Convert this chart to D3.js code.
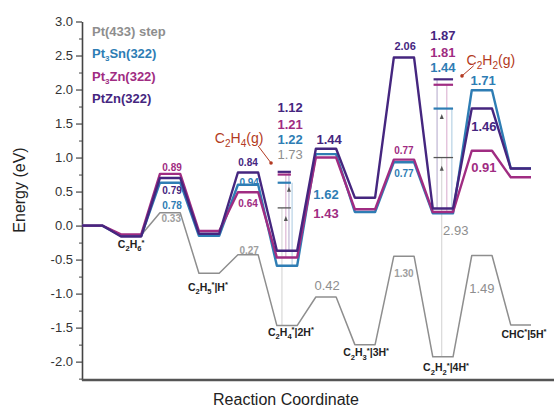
<!DOCTYPE html>
<html>
<head>
<meta charset="utf-8">
<script src="https://cdn.jsdelivr.net/npm/d3@7/dist/d3.min.js"></script>
<style>
  body { margin: 0; background: #fff; }
  svg { font-family: "Liberation Sans", Arial, sans-serif; }
</style>
</head>
<body>
<div id="chart"></div>
<script>
// reaction steps along the x axis (index = reaction coordinate)
var steps = ["C2H6(g)", "C2H6*", "TS1", "C2H5*|H*", "TS2", "C2H4*|2H*", "TS3",
             "C2H3*|3H*", "TS4", "C2H2*|4H*", "TS5", "CHC*|5H*"]

// energy levels (eV)
var pt433 = [0, -0.14, 0.19, -0.70, -0.43, -1.47, -1.05, -1.75, -0.45, -1.93, -0.44, -1.46]
var pt3sn = [0, -0.15, 0.63, -0.15, 0.60, -0.59, 1.05, 0.20, 0.93, 0.18, 1.99, 0.84]
var pt3zn = [0, -0.13, 0.76, -0.08, 0.49, -0.47, 1.00, 0.24, 0.97, 0.20, 1.10, 0.71]
var ptzn  = [0, -0.16, 0.70, -0.12, 0.78, -0.37, 1.13, 0.41, 2.47, 0.25, 1.72, 0.84]

// desorption levels: C2H4(g) above step 5, C2H2(g) above step 9
var c2h4g = { pt433: 0.26, pt3sn: 0.63, pt3zn: 0.75, ptzn: 0.79 }
var c2h2g = { pt433: 1.00, pt3sn: 1.72, pt3zn: 2.07, ptzn: 2.15 }

var seriesNames = ["Pt(433) step", "Pt3Sn(322)", "Pt3Zn(322)", "PtZn(322)"]
var seriesKeys = ["pt433", "pt3sn", "pt3zn", "ptzn"]
var colors = { pt433: "#8e8e8e", pt3sn: "#2e7db4", pt3zn: "#a02c82", ptzn: "#45267f" }
var gasRed = "#b33a22"

// barrier / desorption numbers [text, series, x, y]
var barrierLabels = [
  ["0.89", "pt3zn", 2.05, 0.86], ["0.79", "ptzn", 2.05, 0.51],
  ["0.78", "pt3sn", 2.05, 0.29], ["0.33", "pt433", 2.03, 0.10],
  ["0.84", "ptzn", 4.0, 0.92], ["0.94", "pt3sn", 4.03, 0.63],
  ["0.64", "pt3zn", 4.0, 0.33], ["0.27", "pt433", 4.03, -0.36],
  ["0.77", "pt3zn", 8.0, 1.11], ["0.77", "pt3sn", 8.0, 0.77],
  ["1.30", "pt433", 8.0, -0.70]
]
var bigLabels = [
  ["1.12", "ptzn", 5.08, 1.73], ["1.21", "pt3zn", 5.08, 1.48],
  ["1.22", "pt3sn", 5.08, 1.26], ["1.73", "pt433", 5.08, 1.04],
  ["1.44", "ptzn", 6.08, 1.26], ["1.62", "pt3sn", 6.0, 0.45],
  ["1.43", "pt3zn", 6.0, 0.18], ["0.42", "pt433", 6.03, -0.88],
  ["2.06", "ptzn", 8.03, 2.65],
  ["1.87", "ptzn", 9.0, 2.79], ["1.81", "pt3zn", 9.0, 2.54],
  ["1.44", "pt3sn", 9.0, 2.32], ["2.93", "pt433", 9.33, -0.07],
  ["1.71", "pt3sn", 10.03, 2.14], ["1.46", "ptzn", 10.05, 1.45],
  ["0.91", "pt3zn", 10.05, 0.86], ["1.49", "pt433", 10.0, -0.92]
]
var speciesLabels = [
  ["C2H6*", 1.0, -0.29], ["C2H5*|H*", 2.97, -0.92], ["C2H4*|2H*", 5.1, -1.58],
  ["C2H3*|3H*", 7.03, -1.88], ["C2H2*|4H*", 9.08, -2.10], ["CHC*|5H*", 11.08, -1.61]
]
var gasLabels = [["C2H4(g)", 3.77, 1.29], ["C2H2(g)", 10.23, 2.43]]
var gasArrows = [[4.26, 1.17, 4.59, 0.92], [9.79, 2.35, 9.49, 2.20]]

var yMajor = [-2.0, -1.5, -1.0, -0.5, 0.0, 0.5, 1.0, 1.5, 2.0, 2.5, 3.0]
var yMinor = d3.range(-2.25, 3.0, 0.5)

var W = 554, H = 410
var halfW = 0.26

var xScale = d3.scaleLinear().domain([-0.26, 11.85]).range([82, 554])
var yScale = d3.scaleLinear().domain([-2.27, 3.0]).range([380, 21.5])

var svg = d3.select("#chart").append("svg")
  .attr("width", W).attr("height", H)

// axes
svg.append("g")
  .attr("transform", "translate(82,0)")
  .call(d3.axisLeft(yScale).tickValues(yMinor).tickSize(3).tickSizeOuter(0).tickFormat(""))
  .call(g => g.select(".domain").remove())
  .call(g => g.selectAll("line").attr("stroke", "#444"))

svg.append("g")
  .attr("transform", "translate(82,0)")
  .call(d3.axisLeft(yScale).tickValues(yMajor).tickSize(6).tickSizeOuter(0)
    .tickFormat(d => d.toFixed(1)))
  .call(g => g.select(".domain").attr("stroke", "#444").attr("stroke-width", 1.6))
  .call(g => g.selectAll("line").attr("stroke", "#444").attr("stroke-width", 1.2))
  .call(g => g.selectAll("text").attr("font-size", 13).attr("fill", "#333")
    .attr("font-family", "Liberation Sans, Arial, sans-serif"))

svg.append("line")
  .attr("x1", xScale(-0.26)).attr("x2", W)
  .attr("y1", yScale(-2.27)).attr("y2", yScale(-2.27))
  .attr("stroke", "#555").attr("stroke-width", 2.5)

svg.append("text")
  .attr("transform", "translate(25," + 190 + ") rotate(-90)")
  .attr("text-anchor", "middle")
  .attr("font-size", 16).attr("fill", "#222")
  .text("Energy (eV)")

svg.append("text")
  .attr("x", 286).attr("y", 405)
  .attr("text-anchor", "middle")
  .attr("font-size", 16).attr("fill", "#222")
  .text("Reaction Coordinate")

// chemical formula with sub/superscripts
function chem(sel, str, size) {
  var toks = [], prev = ""
  for (var c of str) {
    var type = "n"
    if (/\d/.test(c) && /[A-Z]/.test(prev)) type = "sub"
    else if (c === "*") type = "sup"
    if (toks.length && toks[toks.length - 1].type === type && type === "n") toks[toks.length - 1].t += c
    else toks.push({ t: c, type: type })
    prev = c
  }
  var cur = 0
  toks.forEach(tk => {
    var off = tk.type === "sub" ? size * 0.3 : tk.type === "sup" ? -size * 0.35 : 0
    sel.append("tspan")
      .attr("dy", off - cur)
      .attr("font-size", tk.type === "n" ? size : size * 0.72)
      .text(tk.t)
    cur = off
  })
}

// desorption vertical lines
var vlines = [
  ["pt433", 4.87, pt433[5], c2h4g.pt433], ["pt3zn", 4.97, pt3zn[5], c2h4g.pt3zn],
  ["ptzn", 5.05, ptzn[5], c2h4g.ptzn], ["pt3sn", 5.13, pt3sn[5], c2h4g.pt3sn],
  ["ptzn", 8.85, ptzn[9], c2h2g.ptzn], ["pt433", 8.97, pt433[9], c2h2g.pt433],
  ["pt3zn", 9.10, pt3zn[9], c2h2g.pt3zn], ["pt3sn", 9.23, pt3sn[9], c2h2g.pt3sn]
]
svg.append("g").selectAll("line").data(vlines).enter().append("line")
  .attr("x1", d => xScale(d[1])).attr("x2", d => xScale(d[1]))
  .attr("y1", d => yScale(d[2])).attr("y2", d => yScale(d[3]))
  .attr("stroke", d => colors[d[0]]).attr("stroke-width", 0.9).attr("opacity", 0.45)

// small up arrows on some desorption lines
var upArrows = [[4.97, c2h4g.pt433 - 0.12], [5.05, c2h4g.pt3sn - 0.06],
                [8.97, c2h2g.pt3sn - 0.08], [8.97, c2h2g.pt433 - 0.12]]
svg.append("g").selectAll("path").data(upArrows).enter().append("path")
  .attr("d", d => {
    var x = xScale(d[0]), y = yScale(d[1])
    return "M" + (x - 2) + "," + (y + 5) + "L" + x + "," + y + "L" + (x + 2) + "," + (y + 5) + "Z"
  })
  .attr("fill", "#555")

// energy profiles
var line = d3.line().x(d => xScale(d[0])).y(d => yScale(d[1]))
var allSeries = { pt433: pt433, pt3sn: pt3sn, pt3zn: pt3zn, ptzn: ptzn }
seriesKeys.forEach(k => {
  var pts = []
  allSeries[k].forEach((e, i) => {
    pts.push([i === 0 ? -0.26 : i - halfW, e])
    pts.push([i + halfW, e])
  })
  svg.append("path")
    .attr("d", line(pts))
    .attr("fill", "none")
    .attr("stroke", colors[k])
    .attr("stroke-width", k === "pt433" ? 1.5 : 2.4)
    .attr("stroke-linejoin", "round")
})

// gas phase levels
function gasLevels(obj, x0, x1) {
  seriesKeys.forEach(k => {
    svg.append("line")
      .attr("x1", xScale(x0)).attr("x2", xScale(x1))
      .attr("y1", yScale(obj[k])).attr("y2", yScale(obj[k]))
      .attr("stroke", k === "pt433" ? "#555" : colors[k])
      .attr("stroke-width", k === "pt433" ? 1.3 : 2.2)
  })
}
gasLevels(c2h4g, 4.76, 5.1)
gasLevels(c2h2g, 8.76, 9.26)

// gas arrows and labels
gasArrows.forEach(a => {
  svg.append("line")
    .attr("x1", xScale(a[0])).attr("y1", yScale(a[1]))
    .attr("x2", xScale(a[2])).attr("y2", yScale(a[3]))
    .attr("stroke", gasRed).attr("stroke-width", 1)
  svg.append("circle")
    .attr("cx", xScale(a[2])).attr("cy", yScale(a[3])).attr("r", 1.8)
    .attr("fill", gasRed)
})
gasLabels.forEach(g => {
  var t = svg.append("text")
    .attr("x", xScale(g[1])).attr("y", yScale(g[2]) + 5)
    .attr("text-anchor", "middle").attr("fill", gasRed)
  chem(t, g[0], 14)
})

// number labels
barrierLabels.forEach(l => {
  svg.append("text")
    .attr("x", xScale(l[2])).attr("y", yScale(l[3]) + 3.5)
    .attr("text-anchor", "middle")
    .attr("font-size", 10).attr("font-weight", "bold")
    .attr("fill", colors[l[1]]).attr("opacity", l[1] === "pt433" ? 0.85 : 1)
    .text(l[0])
})
bigLabels.forEach(l => {
  svg.append("text")
    .attr("x", xScale(l[2])).attr("y", yScale(l[3]) + 4.5)
    .attr("text-anchor", "middle")
    .attr("font-size", l[0] === "2.06" && l[1] === "ptzn" ? 11 : 13)
    .attr("font-weight", l[1] === "pt433" ? "normal" : "bold")
    .attr("fill", colors[l[1]])
    .text(l[0])
})

// species labels
speciesLabels.forEach(s => {
  var t = svg.append("text")
    .attr("x", xScale(s[1])).attr("y", yScale(s[2]) + 3)
    .attr("text-anchor", "middle").attr("font-weight", "bold").attr("fill", "#222")
  chem(t, s[0], 10.5)
})

// legend
seriesKeys.forEach((k, i) => {
  var t = svg.append("text")
    .attr("x", 92).attr("y", [36, 58, 81, 103][i])
    .attr("font-size", 13).attr("font-weight", "bold")
    .attr("fill", colors[k])
  var name = seriesNames[i]
  if (name.indexOf("Pt3") === 0) {
    t.append("tspan").text("Pt")
    t.append("tspan").attr("font-size", 8).attr("dy", 3).text("3")
    t.append("tspan").attr("dy", -3).text(name.slice(3))
  } else {
    t.text(name)
  }
})
</script>
</body>
</html>
